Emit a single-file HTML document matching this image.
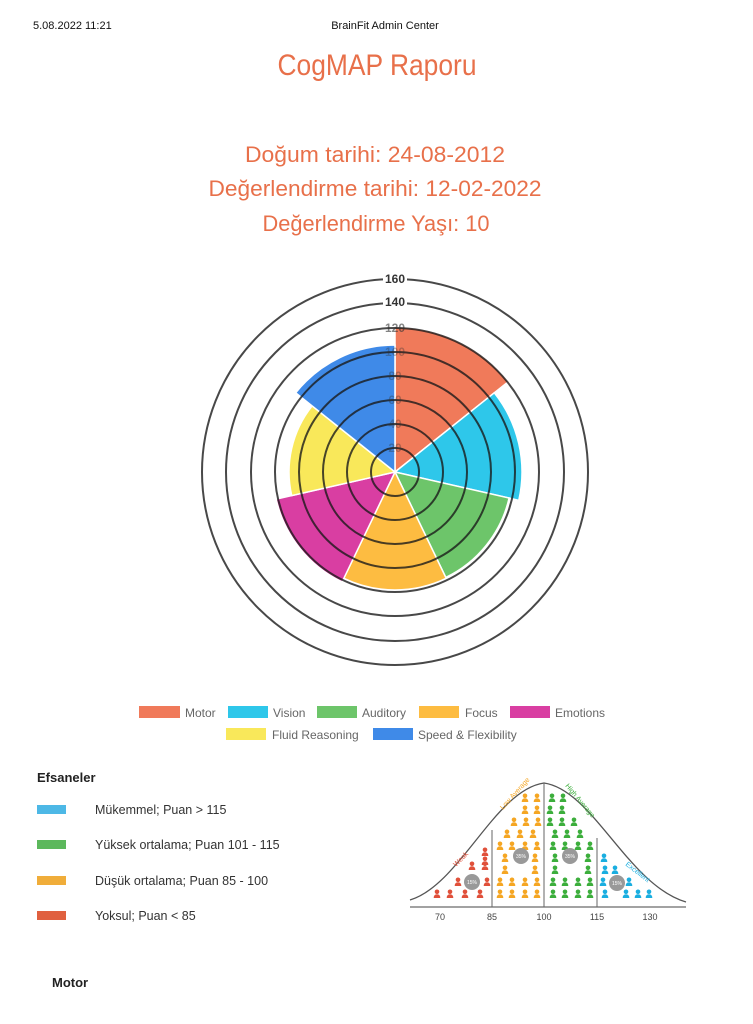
<!DOCTYPE html>
<html><head><meta charset="utf-8"><style>
html,body{margin:0;padding:0;background:#fff;width:753px;height:1024px;overflow:hidden}
svg{display:block;font-family:"Liberation Sans",sans-serif}
</style></head><body>
<svg width="753" height="1024" viewBox="0 0 753 1024" xmlns="http://www.w3.org/2000/svg">
<defs>
<g id="p"><circle cx="0" cy="-3.2" r="2.3"/><path d="M-3.3,3 Q-3.3,-0.8 0,-0.8 Q3.3,-0.8 3.3,3 Z"/></g>
</defs>
<text x="33" y="29" font-size="11" fill="#111">5.08.2022 11:21</text>
<text x="385" y="29" font-size="11" fill="#111" text-anchor="middle">BrainFit Admin Center</text>
<g fill="#e8704a" text-anchor="middle">
<text x="377" y="75" font-size="30" textLength="199" lengthAdjust="spacingAndGlyphs">CogMAP Raporu</text>
<text x="375" y="162" font-size="22" textLength="260" lengthAdjust="spacingAndGlyphs">Doğum tarihi: 24-08-2012</text>
<text x="375" y="196" font-size="22" textLength="333" lengthAdjust="spacingAndGlyphs">Değerlendirme tarihi: 12-02-2022</text>
<text x="376" y="231" font-size="22" textLength="227" lengthAdjust="spacingAndGlyphs">Değerlendirme Yaşı: 10</text>
</g>
<!-- polar -->
<g stroke="#fff" stroke-width="1.5">
<path d="M395,472 L395,327 A145,145 0 0 1 508.4,381.6 Z" fill="#f07a5a"/>
<path d="M395,472 L494.3,392.8 A127,127 0 0 1 518.8,500.3 Z" fill="#2ec7ea"/>
<path d="M395,472 L509.1,498 A117,117 0 0 1 445.8,577.4 Z" fill="#6dc56a"/>
<path d="M395,472 L446.2,578.3 A118,118 0 0 1 343.8,578.3 Z" fill="#fdbc41"/>
<path d="M395,472 L342.1,581.9 A122,122 0 0 1 276.1,499.1 Z" fill="#d93ea2"/>
<path d="M395,472 L291.7,495.6 A106,106 0 0 1 312.1,405.9 Z" fill="#f9e85a"/>
<path d="M395,472 L295.7,392.8 A127,127 0 0 1 395,345 Z" fill="#3f8ae8"/>
</g>
<g fill="none" stroke="#1a1a1a" stroke-opacity="0.8" stroke-width="2">
<circle cx="395" cy="472" r="24"/><circle cx="395" cy="472" r="48"/><circle cx="395" cy="472" r="72"/>
<circle cx="395" cy="472" r="96"/><circle cx="395" cy="472" r="120"/><circle cx="395" cy="472" r="144"/>
<circle cx="395" cy="472" r="169"/><circle cx="395" cy="472" r="193"/>
</g>
<g font-size="12" font-weight="bold" text-anchor="middle" fill="#333">
<rect x="383" y="273" width="24" height="12" fill="#fff"/><text x="395" y="283">160</text>
<rect x="383" y="296" width="24" height="12" fill="#fff"/><text x="395" y="306">140</text>
<text x="395" y="332" opacity="0.6">120</text>
<g opacity="0.35"><text x="395" y="356">100</text><text x="395" y="380">80</text><text x="395" y="404">60</text><text x="395" y="428">40</text><text x="395" y="452">20</text></g>
</g>
<!-- legend -->
<g font-size="12" fill="#666">
<rect x="139" y="706" width="41" height="12" fill="#f07a5a"/><text x="185" y="717">Motor</text>
<rect x="228" y="706" width="40" height="12" fill="#2ec7ea"/><text x="273" y="717">Vision</text>
<rect x="317" y="706" width="40" height="12" fill="#6dc56a"/><text x="362" y="717">Auditory</text>
<rect x="419" y="706" width="40" height="12" fill="#fdbc41"/><text x="465" y="717">Focus</text>
<rect x="510" y="706" width="40" height="12" fill="#d93ea2"/><text x="555" y="717">Emotions</text>
<rect x="226" y="728" width="40" height="12" fill="#f9e85a"/><text x="272" y="739">Fluid Reasoning</text>
<rect x="373" y="728" width="40" height="12" fill="#3f8ae8"/><text x="418" y="739">Speed &amp; Flexibility</text>
</g>
<text x="37" y="782" font-size="13" font-weight="bold" fill="#222">Efsaneler</text>
<g font-size="12.5" fill="#333">
<rect x="37" y="805" width="29" height="9" fill="#4db8e6"/><text x="95" y="814">Mükemmel; Puan &gt; 115</text>
<rect x="37" y="840" width="29" height="9" fill="#5cb85c"/><text x="95" y="849">Yüksek ortalama; Puan 101 - 115</text>
<rect x="37" y="876" width="29" height="9" fill="#f0ad3a"/><text x="95" y="885">Düşük ortalama; Puan 85 - 100</text>
<rect x="37" y="911" width="29" height="9" fill="#e0603f"/><text x="95" y="920">Yoksul; Puan &lt; 85</text>
</g>
<text x="52" y="987" font-size="13" font-weight="bold" fill="#222">Motor</text>
<!-- bell -->
<g>
<path d="M410,900 C460,885 495,790 544,783 C593,790 628,885 686,902" fill="none" stroke="#555" stroke-width="1.3"/>
<line x1="410" y1="907" x2="686" y2="907" stroke="#444" stroke-width="1"/>
<line x1="492" y1="830" x2="492" y2="907" stroke="#666"/>
<line x1="544" y1="783" x2="544" y2="907" stroke="#666"/>
<line x1="597" y1="838" x2="597" y2="907" stroke="#666"/>
<g font-size="9" fill="#444" text-anchor="middle">
<text x="440" y="920">70</text><text x="492" y="920">85</text><text x="544" y="920">100</text><text x="597" y="920">115</text><text x="650" y="920">130</text>
</g>
<g fill="#e0503a">
<use href="#p" x="437" y="895"/><use href="#p" x="450" y="895"/><use href="#p" x="465" y="895"/><use href="#p" x="480" y="895"/>
<use href="#p" x="458" y="883"/><use href="#p" x="487" y="883"/><use href="#p" x="472" y="867"/><use href="#p" x="485" y="867"/><use href="#p" x="485" y="853"/><use href="#p" x="485" y="862"/>
</g>
<g fill="#f5a623">
<use href="#p" x="500" y="895"/><use href="#p" x="512" y="895"/><use href="#p" x="525" y="895"/><use href="#p" x="537" y="895"/>
<use href="#p" x="500" y="883"/><use href="#p" x="512" y="883"/><use href="#p" x="525" y="883"/><use href="#p" x="537" y="883"/>
<use href="#p" x="505" y="871"/><use href="#p" x="535" y="871"/>
<use href="#p" x="505" y="859"/><use href="#p" x="535" y="859"/>
<use href="#p" x="500" y="847"/><use href="#p" x="512" y="847"/><use href="#p" x="525" y="847"/><use href="#p" x="537" y="847"/>
<use href="#p" x="507" y="835"/><use href="#p" x="520" y="835"/><use href="#p" x="533" y="835"/>
<use href="#p" x="514" y="823"/><use href="#p" x="526" y="823"/><use href="#p" x="538" y="823"/>
<use href="#p" x="525" y="811"/><use href="#p" x="537" y="811"/>
<use href="#p" x="525" y="799"/><use href="#p" x="537" y="799"/>
</g>
<g fill="#3cae3c">
<use href="#p" x="553" y="895"/><use href="#p" x="565" y="895"/><use href="#p" x="578" y="895"/><use href="#p" x="590" y="895"/>
<use href="#p" x="553" y="883"/><use href="#p" x="565" y="883"/><use href="#p" x="578" y="883"/><use href="#p" x="590" y="883"/>
<use href="#p" x="555" y="871"/><use href="#p" x="588" y="871"/>
<use href="#p" x="555" y="859"/><use href="#p" x="588" y="859"/>
<use href="#p" x="553" y="847"/><use href="#p" x="565" y="847"/><use href="#p" x="578" y="847"/><use href="#p" x="590" y="847"/>
<use href="#p" x="555" y="835"/><use href="#p" x="567" y="835"/><use href="#p" x="580" y="835"/>
<use href="#p" x="550" y="823"/><use href="#p" x="562" y="823"/><use href="#p" x="574" y="823"/>
<use href="#p" x="550" y="811"/><use href="#p" x="562" y="811"/>
<use href="#p" x="552" y="799"/><use href="#p" x="563" y="799"/>
</g>
<g fill="#1aaee0">
<use href="#p" x="605" y="895"/><use href="#p" x="626" y="895"/><use href="#p" x="638" y="895"/><use href="#p" x="649" y="895"/>
<use href="#p" x="603" y="883"/><use href="#p" x="629" y="883"/>
<use href="#p" x="605" y="871"/><use href="#p" x="615" y="871"/>
<use href="#p" x="604" y="859"/>
</g>
<g fill="#999"><circle cx="472" cy="882" r="8"/><circle cx="521" cy="856" r="8"/><circle cx="570" cy="856" r="8"/><circle cx="617" cy="883" r="8"/></g>
<g fill="#fff" font-size="5" text-anchor="middle"><text x="472" y="884">15%</text><text x="521" y="858">35%</text><text x="570" y="858">35%</text><text x="617" y="885">15%</text></g>
<g font-size="7">
<text x="0" y="0" fill="#e0503a" transform="translate(456,867) rotate(-45)">Weak</text>
<text x="0" y="0" fill="#f5a623" transform="translate(503,810) rotate(-48)">Low Average</text>
<text x="0" y="0" fill="#3cae3c" transform="translate(565,786) rotate(50)">High Average</text>
<text x="0" y="0" fill="#1aaee0" transform="translate(625,865) rotate(38)">Excellent</text>
</g>
</g>
</svg>
</body></html>
